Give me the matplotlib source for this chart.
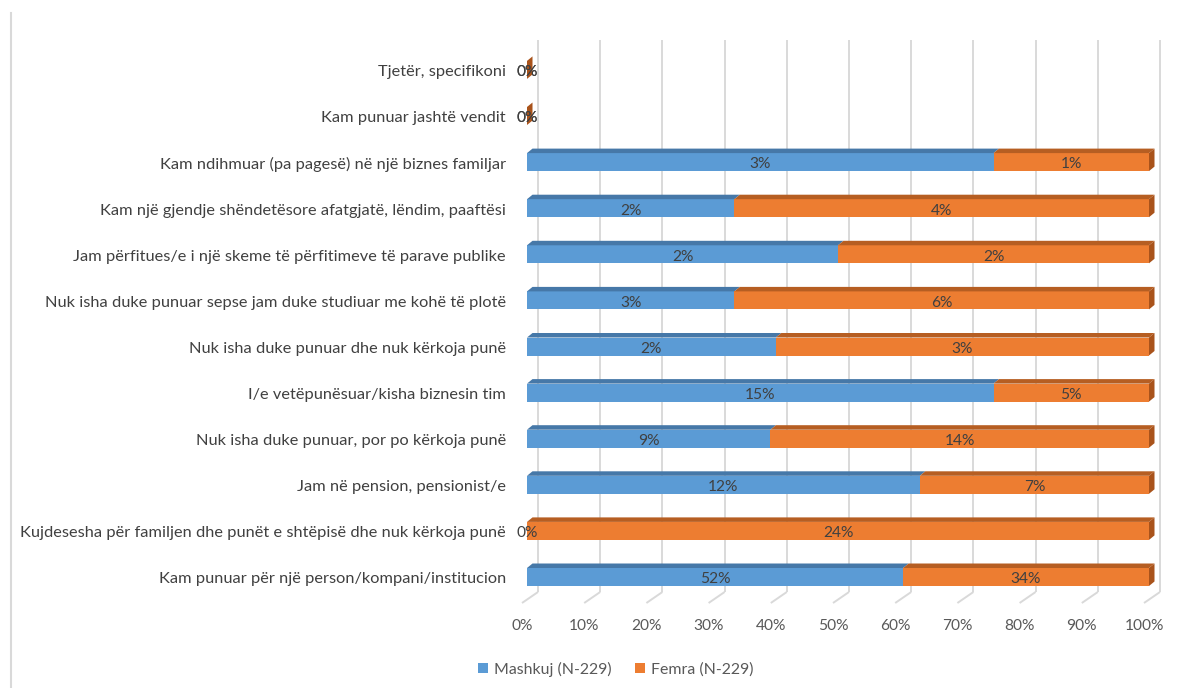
import matplotlib
matplotlib.use("Agg")
import matplotlib.pyplot as plt
from matplotlib.patches import Polygon, Patch
from matplotlib.lines import Line2D

# ---- data ----
categories = [
    "Kam punuar për një person/kompani/institucion",
    "Kujdesesha për familjen dhe punët e shtëpisë dhe nuk kërkoja punë",
    "Jam në pension, pensionist/e",
    "Nuk isha duke punuar, por po kërkoja punë",
    "I/e vetëpunësuar/kisha biznesin tim",
    "Nuk isha duke punuar dhe nuk kërkoja punë",
    "Nuk isha duke punuar sepse jam duke studiuar me kohë të plotë",
    "Jam përfitues/e i një skeme të përfitimeve të parave publike",
    "Kam një gjendje shëndetësore afatgjatë, lëndim, paaftësi",
    "Kam ndihmuar (pa pagesë) në një biznes familjar",
    "Kam punuar jashtë vendit",
    "Tjetër, specifikoni",
]
mashkuj = [52, 0, 12, 9, 15, 2, 3, 2, 2, 3, 0, 0]
femra = [34, 24, 7, 14, 5, 3, 6, 2, 4, 1, 0, 0]
series_names = ["Mashkuj (N-229)", "Femra (N-229)"]
x_ticks = [0, 10, 20, 30, 40, 50, 60, 70, 80, 90, 100]

# ---- style ----
front_colors = ["#5B9BD5", "#ED7D31"]
top_colors = ["#4678A8", "#B65E22"]
side_colors = ["#4678A8", "#A9531B"]
grid_color = "#D9D9D9"
label_color = "#404040"
tick_color = "#595959"
FONT = "Lato"
FS_CAT = 11.8
FS_TICK = 11.2
FS_DATA = 11.2
FS_LEG = 11.4

W, H = 1194, 688
fig = plt.figure(figsize=(W / 100, H / 100), dpi=100)
L_px, R_px, T_px, B_px = 500, 1180, 30, 620
X0_px, PXU = 522.0, 6.22
Y0_px, PYU = 577.0, 46.1
ax = fig.add_axes([L_px / W, 1 - B_px / H, (R_px - L_px) / W, (B_px - T_px) / H])
ax.set_xlim((L_px - X0_px) / PXU, (R_px - X0_px) / PXU)
ax.set_ylim((Y0_px - B_px) / PYU, (Y0_px - T_px) / PYU)
ax.axis("off")

back_dx, back_dy = 16 / PXU, 11 / PYU
floor_front_y = (Y0_px - 603) / PYU
wall_top_y = (Y0_px - 40) / PYU
bar_off = 5 / PXU
bar_h = 18 / PYU
dep_dx, dep_dy = 5.5 / PXU, 4.5 / PYU

for t in x_ticks:
    ax.plot([t, t + back_dx], [floor_front_y, floor_front_y + back_dy],
            color=grid_color, lw=1.4, zorder=1, solid_capstyle="butt")
    ax.plot([t + back_dx, t + back_dx], [floor_front_y + back_dy, wall_top_y],
            color=grid_color, lw=1.4, zorder=1, solid_capstyle="butt")
    ax.text(t, (Y0_px - 626) / PYU, f"{t}%", ha="center", va="center",
            fontsize=FS_TICK, color=tick_color, family=FONT, clip_on=False)

for i in range(len(categories)):
    vals = [mashkuj[i], femra[i]]
    tot = sum(vals)
    widths = [100.0 * v / tot if tot else 0.0 for v in vals]
    left = bar_off
    y_lo, y_hi = i - bar_h / 2, i + bar_h / 2
    last_color = 1
    for s, (v, w) in enumerate(zip(vals, widths)):
        if w > 0:
            ax.barh(i, w, left=left, height=bar_h, color=front_colors[s],
                    linewidth=0, zorder=3)
            ax.add_patch(Polygon([(left, y_hi), (left + w, y_hi),
                                  (left + w + dep_dx, y_hi + dep_dy),
                                  (left + dep_dx, y_hi + dep_dy)],
                                 closed=True, color=top_colors[s], lw=0, zorder=3))
            last_color = s
        ax.text(left + w / 2, i - 0.05, f"{v}%", ha="center", va="center",
                fontsize=FS_DATA, color=label_color, family=FONT, zorder=5)
        left += w
    ax.add_patch(Polygon([(left, y_lo), (left, y_hi),
                          (left + dep_dx, y_hi + dep_dy),
                          (left + dep_dx, y_lo + dep_dy)],
                         closed=True, color=side_colors[last_color], lw=0, zorder=4))
    ax.text((506 - X0_px) / PXU, i - 0.05, categories[i], ha="right", va="center",
            fontsize=FS_CAT, color=label_color, family=FONT, clip_on=False)

handles = [Patch(facecolor=front_colors[0], edgecolor="none"),
           Patch(facecolor=front_colors[1], edgecolor="none")]
fig.legend(handles, series_names, loc="center", bbox_to_anchor=(616 / W, 1 - 669 / H),
           ncol=2, frameon=False, handlelength=0.6, handleheight=0.6,
           handletextpad=0.4, columnspacing=1.5,
           prop={"family": FONT, "size": FS_LEG}, labelcolor=tick_color)

fig.add_artist(Line2D([11 / W, 11 / W], [0, 1 - 13 / H], color=grid_color, lw=1.5,
                      transform=fig.transFigure))

fig.savefig("out.png", dpi=100, facecolor="white")
